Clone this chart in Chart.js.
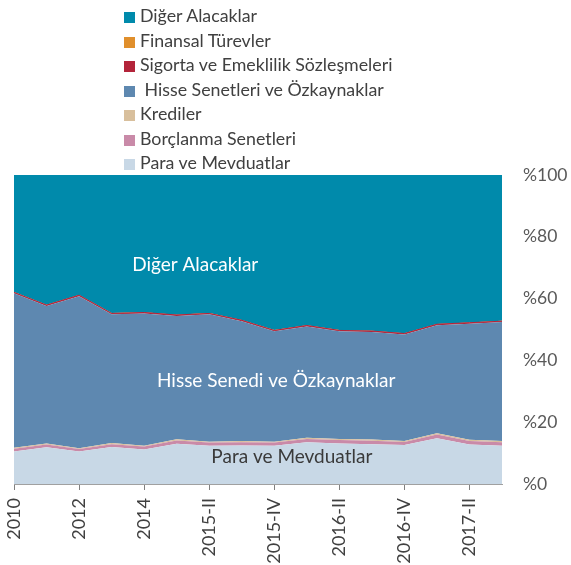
<!DOCTYPE html>
<html>
<head>
<meta charset="utf-8">
<script src="https://cdn.jsdelivr.net/npm/chart.js@4"></script>
<style>
  html, body { margin: 0; padding: 0; background: #ffffff; overflow: hidden; }
  #wrap { position: relative; width: 571px; height: 565px; }
  #legend { position: absolute; left: 124px; top: 3px; font-family: Lato, sans-serif; font-size: 17.8px; color: #404040; }
  #legend div { height: 24.5px; line-height: 24.5px; white-space: nowrap; }
  #legend span.box { display: inline-block; width: 11px; height: 11px; margin-right: 5px; vertical-align: -1px; }
  canvas { position: absolute; left: 0; top: 0; }
</style>
</head>
<body>
<div id="wrap">
  <canvas id="c" width="571" height="565"></canvas>
  <div id="legend"></div>
</div>
<script>
const categories = ["2010","2011","2012","2013","2014","2015-I","2015-II","2015-III","2015-IV","2016-I","2016-II","2016-III","2016-IV","2017-I","2017-II","2017-III"];
const shownTickLabels = ["2010","2012","2014","2015-II","2015-IV","2016-II","2016-IV","2017-II"];
const yTickLabels = ["%0","%20","%40","%60","%80","%100"];

const paraVeMevduatlar   = [10.5, 11.9, 10.5, 12.0, 11.2, 13.0, 12.4, 12.5, 12.4, 13.5, 13.1, 12.9, 12.6, 14.8, 12.8, 12.4];
const borclanmaSenetleri = [0.9, 0.9, 0.8, 0.9, 0.9, 1.1, 1.0, 1.0, 1.0, 1.1, 1.1, 1.1, 1.0, 1.2, 1.1, 1.1];
const krediler           = [0.3, 0.3, 0.3, 0.4, 0.3, 0.4, 0.3, 0.4, 0.3, 0.4, 0.4, 0.4, 0.3, 0.4, 0.4, 0.4];
const hisseSenetleri     = [50.0, 44.5, 49.2, 41.6, 42.8, 39.9, 41.2, 38.8, 35.7, 36.0, 34.8, 34.8, 34.5, 35.0, 37.6, 38.5];
const sigortaEmeklilik   = [0.3, 0.3, 0.3, 0.3, 0.3, 0.3, 0.3, 0.3, 0.3, 0.3, 0.3, 0.3, 0.3, 0.3, 0.3, 0.3];
const finansalTurevler   = [0.1, 0.1, 0.1, 0.1, 0.1, 0.1, 0.1, 0.1, 0.1, 0.1, 0.1, 0.1, 0.1, 0.1, 0.1, 0.1];
const digerAlacaklar     = [37.9, 42.0, 38.8, 44.7, 44.4, 45.2, 44.7, 46.9, 50.2, 48.6, 50.2, 50.4, 51.2, 48.2, 47.7, 47.2];

const seriesNames = ["Para ve Mevduatlar","Borçlanma Senetleri","Krediler"," Hisse Senetleri ve Özkaynaklar","Sigorta ve Emeklilik Sözleşmeleri","Finansal Türevler","Diğer Alacaklar"];
const seriesData = [paraVeMevduatlar, borclanmaSenetleri, krediler, hisseSenetleri, sigortaEmeklilik, finansalTurevler, digerAlacaklar];
const seriesColors = ["#c8d8e6","#c98aa8","#d8bf9c","#5e88b0","#b3243a","#e08f2c","#008aab"];

const areaLabels = [
  { text: "Diğer Alacaklar", x: 5.57, y: 71.0, color: "#ffffff" },
  { text: "Hisse Senedi ve Özkaynaklar", x: 8.06, y: 33.3, color: "#ffffff" },
  { text: "Para ve Mevduatlar", x: 8.54, y: 8.8, color: "#3a3a3a" }
];

// HTML legend (reverse order)
const legendEl = document.getElementById('legend');
for (let i = seriesNames.length - 1; i >= 0; i--) {
  const d = document.createElement('div');
  const b = document.createElement('span');
  b.className = 'box';
  b.style.background = seriesColors[i];
  d.appendChild(b);
  d.appendChild(document.createTextNode(seriesNames[i]));
  legendEl.appendChild(d);
}

const datasets = seriesData.map((arr, i) => ({
  label: seriesNames[i],
  data: arr,
  backgroundColor: seriesColors[i],
  borderColor: seriesColors[i],
  borderWidth: i === 4 ? 1 : 0,
  pointRadius: 0,
  tension: 0,
  fill: i === 0 ? 'origin' : '-1'
}));

const labelPlugin = {
  id: 'areaLabels',
  afterDatasetsDraw(chart) {
    const ctx = chart.ctx;
    const xs = chart.scales.x, ys = chart.scales.y;
    ctx.save();
    ctx.font = '19px Lato, sans-serif';
    ctx.textAlign = 'center';
    ctx.textBaseline = 'middle';
    areaLabels.forEach(l => {
      ctx.fillStyle = l.color;
      ctx.fillText(l.text, xs.getPixelForValue(l.x), ys.getPixelForValue(l.y));
    });
    ctx.restore();
  }
};

new Chart(document.getElementById('c'), {
  type: 'line',
  data: { labels: categories, datasets },
  options: {
    responsive: false,
    animation: false,
    layout: { padding: { top: 175, left: 14, right: 0, bottom: 0 } },
    plugins: { legend: { display: false }, tooltip: { enabled: false } },
    scales: {
      x: {
        offset: false,
        afterFit: (s) => { s.height = 81; },
        grid: {
          drawOnChartArea: false,
          tickLength: 6,
          color: (c) => (c.index % 2 === 0 ? '#808080' : 'rgba(0,0,0,0)')
        },
        border: { display: true, color: '#a0a0a0' },
        ticks: {
          autoSkip: false,
          minRotation: 90,
          maxRotation: 90,
          color: '#404040',
          font: { family: 'Lato, sans-serif', size: 18 },
          padding: 8,
          callback: function(v, i) {
            const lab = categories[i];
            return shownTickLabels.includes(lab) ? lab : '';
          }
        }
      },
      y: {
        position: 'right',
        stacked: true,
        min: 0,
        max: 100,
        afterFit: (s) => { s.width = 69; },
        grid: { display: false },
        border: { display: false },
        ticks: {
          stepSize: 20,
          padding: 13,
          color: '#595959',
          font: { family: 'Lato, sans-serif', size: 17.5 },
          callback: (v) => yTickLabels[v / 20]
        }
      }
    }
  },
  plugins: [labelPlugin]
});
</script>
</body>
</html>
